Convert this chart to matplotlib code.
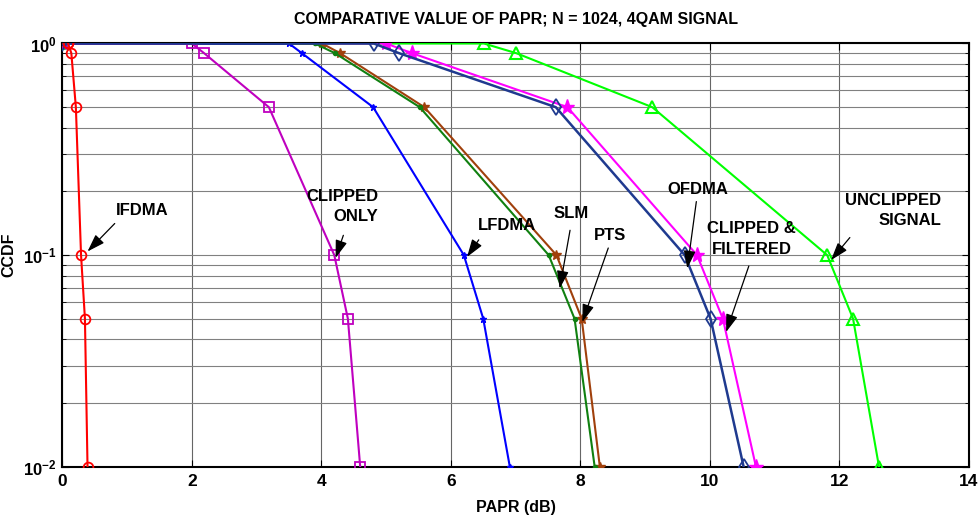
import matplotlib
matplotlib.use("Agg")
import matplotlib.pyplot as plt
from matplotlib.ticker import FixedLocator, LogLocator, NullFormatter

plt.rcParams["font.family"] = ["Liberation Sans Narrow", "Liberation Sans", "DejaVu Sans"]
plt.rcParams["font.weight"] = "bold"
plt.rcParams["mathtext.fontset"] = "custom"
plt.rcParams["mathtext.rm"] = "Liberation Sans:bold"
plt.rcParams["mathtext.bf"] = "Liberation Sans:bold"

# CCDF levels (same for every curve)
ccdf = [1, 1, 0.9, 0.5, 0.1, 0.05, 0.01]

# PAPR (dB)
papr_ifdma = [0.09, 0.09, 0.14, 0.21, 0.29, 0.35, 0.39]
papr_clip_only = [0.0, 2.0, 2.19, 3.19, 4.2, 4.41, 4.6]
papr_lfdma = [0.0, 3.5, 3.7, 4.8, 6.2, 6.5, 6.91]
papr_slm = [0.0, 3.9, 4.21, 5.52, 7.51, 7.91, 8.22]
papr_pts = [0.0, 4.01, 4.29, 5.59, 7.63, 8.02, 8.3]
papr_ofdma = [0.0, 4.81, 5.2, 7.62, 9.61, 10.01, 10.52]
papr_clip_filt = [0.0, 5.0, 5.4, 7.8, 9.8, 10.2, 10.71]
papr_unclipped = [0.0, 6.51, 7.01, 9.11, 11.81, 12.21, 12.61]

fig = plt.figure(figsize=(9.79, 5.24), dpi=100)
ax = fig.add_axes([0.0636, 0.1094, 0.9262, 0.8076])

lw = 1.5
ax.plot(papr_unclipped, ccdf, color="#00ff00", marker="^", mfc="none", ms=8, mew=1.5, lw=lw, zorder=3)
ax.plot(papr_clip_filt, ccdf, color="#ff00ff", marker="*", ms=11, lw=lw, zorder=3)
ax.plot(papr_pts, ccdf, color="#a0400c", marker="*", ms=7, lw=lw, zorder=3)
ax.plot(papr_slm, ccdf, color="#108010", marker=".", ms=6, lw=lw, zorder=3)
ax.plot(papr_lfdma, ccdf, color="#0000ff", marker="*", ms=5, lw=lw, zorder=3)
ax.plot(papr_clip_only, ccdf, color="#bf00bf", marker="s", mfc="none", ms=7, mew=1.3, lw=lw, zorder=3)
ax.plot(papr_ofdma, ccdf, color="#1f3a8f", marker="d", mfc="none", ms=8, mew=1.3, lw=1.8, zorder=4)
ax.plot(papr_ifdma, ccdf, color="#ff0000", marker="o", mfc="none", ms=7, mew=1.3, lw=lw, zorder=5)

ax.set_yscale("log")
ax.set_xlim(0, 14)
ax.set_ylim(0.01, 1)
ax.set_xticks(range(0, 15, 2))
ax.yaxis.set_major_locator(FixedLocator([0.01, 0.1, 1]))
ax.yaxis.set_minor_locator(LogLocator(base=10, subs=range(2, 10)))
ax.yaxis.set_minor_formatter(NullFormatter())
ax.set_yticklabels([r"$\mathbf{10^{-2}}$", r"$\mathbf{10^{-1}}$", r"$\mathbf{10^{0}}$"])
ax.grid(True, which="major", axis="x", color="0.4", lw=0.8)
ax.grid(True, which="both", axis="y", color="0.5", lw=0.8)
ax.tick_params(which="both", direction="in", top=True, right=True, labelsize=12.5)
ax.tick_params(axis="y", labelsize=12, pad=4)
ax.tick_params(which="major", length=5)
ax.tick_params(axis="x", pad=5)
ax.tick_params(which="minor", length=3)
for s in ax.spines.values():
    s.set_linewidth(1.5)

ax.set_xlabel("PAPR (dB)", fontsize=11.5, fontweight="bold", labelpad=8)
ax.set_ylabel("CCDF", fontsize=11.5, fontweight="bold")
ax.yaxis.set_label_coords(-0.051, 0.5)
ax.set_title("COMPARATIVE VALUE OF PAPR; N = 1024, 4QAM SIGNAL", fontsize=11.5, fontweight="bold", pad=14)

arrow = dict(arrowstyle="-|>,head_length=0.9,head_width=0.3", color="black", lw=0.9,
             mutation_scale=12, shrinkA=0, shrinkB=0)
notes = [
    ("IFDMA", (1.23, 0.163), (0.81, 0.141), (0.39, 0.104), "center", "center"),
    ("CLIPPED\nONLY", (4.88, 0.170), (4.34, 0.124), (4.22, 0.097), "right", "right"),
    ("LFDMA", (6.86, 0.138), (6.43, 0.118), (6.25, 0.098), "center", "center"),
    ("SLM", (7.86, 0.158), (7.84, 0.131), (7.68, 0.0695), "center", "center"),
    ("PTS", (8.46, 0.124), (8.43, 0.108), (8.03, 0.0483), "center", "center"),
    ("OFDMA", (9.81, 0.205), (9.79, 0.179), (9.65, 0.0865), "center", "center"),
    ("CLIPPED &\nFILTERED", (10.64, 0.119), (10.60, 0.0887), (10.25, 0.0433), "center", "center"),
    ("UNCLIPPED\nSIGNAL", (13.57, 0.162), (12.16, 0.121), (11.87, 0.0947), "right", "right"),
]
for label, txt, tail, head, ha, ma in notes:
    ax.text(txt[0], txt[1], label, ha=ha, va="center", multialignment=ma,
            fontsize=12, fontweight="bold", linespacing=1.45, zorder=6)
    ax.annotate("", xy=head, xytext=tail, arrowprops=arrow, zorder=6)

fig.savefig("out.png", dpi=100)
